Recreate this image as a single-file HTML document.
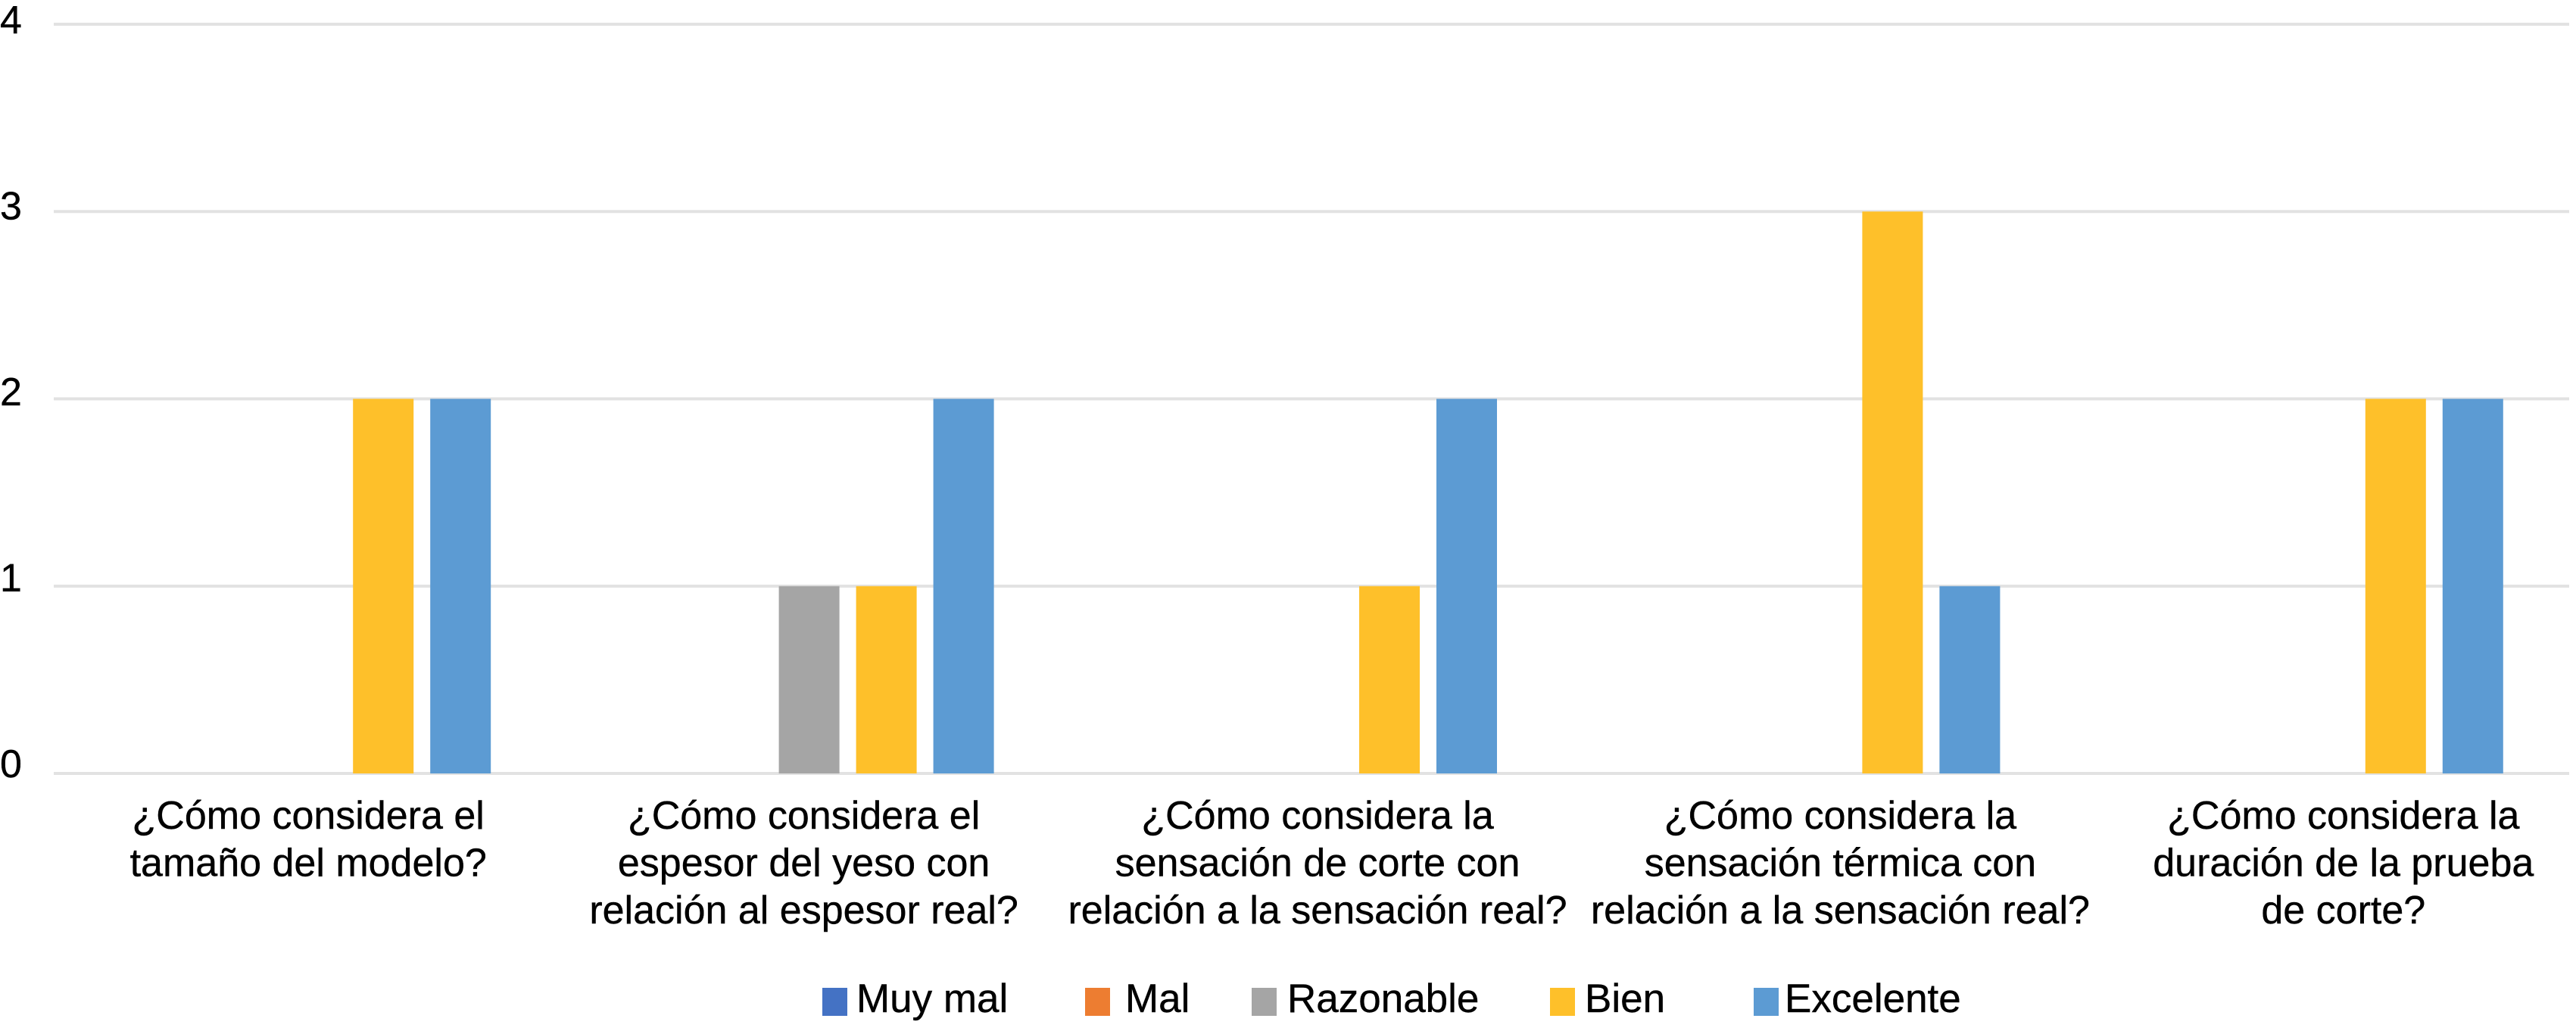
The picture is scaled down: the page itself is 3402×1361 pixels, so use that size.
<!DOCTYPE html>
<html lang="es">
<head>
<meta charset="utf-8">
<title>Encuesta del modelo</title>
<style>
html,body{margin:0;padding:0;background:#fff;width:3402px;height:1361px;overflow:hidden}
svg{display:block}
text{font-family:"Liberation Sans",Arial,sans-serif;fill:#000;stroke:#000;stroke-width:.4px}
</style>
</head>
<body>
<svg id="chart" xmlns="http://www.w3.org/2000/svg" width="3402" height="1361" viewBox="0 0 3402 1361"></svg>
<script>
const categories = [
  ["¿Cómo considera el", "tamaño del modelo?"],
  ["¿Cómo considera el", "espesor del yeso con", "relación al espesor real?"],
  ["¿Cómo considera la", "sensación de corte con", "relación a la sensación real?"],
  ["¿Cómo considera la", "sensación térmica con", "relación a la sensación real?"],
  ["¿Cómo considera la", "duración de la prueba", "de corte?"]
];
const seriesNames = ["Muy mal", "Mal", "Razonable", "Bien", "Excelente"];
const muyMal = [0, 0, 0, 0, 0];
const mal = [0, 0, 0, 0, 0];
const razonable = [0, 1, 0, 0, 0];
const bien = [2, 1, 1, 3, 2];
const excelente = [2, 2, 2, 1, 2];
const tickLabels = [0, 1, 2, 3, 4];

const seriesValues = [muyMal, mal, razonable, bien, excelente];
const seriesColors = ["#4472C4", "#ED7D31", "#A5A5A5", "#FEC02A", "#5C9BD3"];
const labelNudge = [4, -6, 8, 34, 34];
const legendSwatchLeft = [1086, 1433, 1653, 2047, 2316];
const legendTextLeft = [1131, 1486, 1700, 2093, 2357];

const svg = document.getElementById("chart");
const NS = "http://www.w3.org/2000/svg";
const plotLeft = 71, plotRight = 3393, plotTop = 32, plotBottom = 1021;
const barWidth = 80, barStep = 102;
const maxTick = tickLabels[tickLabels.length - 1];

function yScale(v) { return plotBottom - (plotBottom - plotTop) * v / maxTick; }
function tickBaseline(v) { return 1026 - 245.5 * v; }
function xCenter(i) { return plotLeft + (plotRight - plotLeft) * (i + 0.5) / categories.length; }
function barCenter(i, s) { return xCenter(i) + 1 + (s - (seriesNames.length - 1) / 2) * barStep; }
function make(tag, attrs) {
  const el = document.createElementNS(NS, tag);
  for (const k in attrs) el.setAttribute(k, attrs[k]);
  svg.appendChild(el);
  return el;
}

tickLabels.forEach(function (t) {
  const line = make("rect", { x: plotLeft, y: yScale(t) - 2, width: plotRight - plotLeft, height: 4, fill: "#E2E2E2" });
  
  
  const label = make("text", { x: 0, y: tickBaseline(t), "font-size": 52 });
  label.textContent = t;
  
  
});

seriesValues.forEach(function (values, s) {
  values.forEach(function (v, i) {
    const top = yScale(v);
    const bar = make("rect", { x: barCenter(i, s) - barWidth / 2, y: top, width: barWidth, height: plotBottom - top, fill: seriesColors[s] });
    
    
  });
});

categories.forEach(function (lines, i) {
  lines.forEach(function (line, n) {
    const label = make("text", { x: xCenter(i) + labelNudge[i], y: 1094 + 62.5 * n, "font-size": 52, "text-anchor": "middle" });
    label.textContent = line;
    
    
  });
});

seriesNames.forEach(function (name, s) {
  const swatch = make("rect", { x: legendSwatchLeft[s], y: 1304, width: 33, height: 37, fill: seriesColors[s] });
  
  
  const text = make("text", { x: legendTextLeft[s], y: 1336, "font-size": 53 });
  text.textContent = name;
  
  
});
</script>
</body>
</html>
